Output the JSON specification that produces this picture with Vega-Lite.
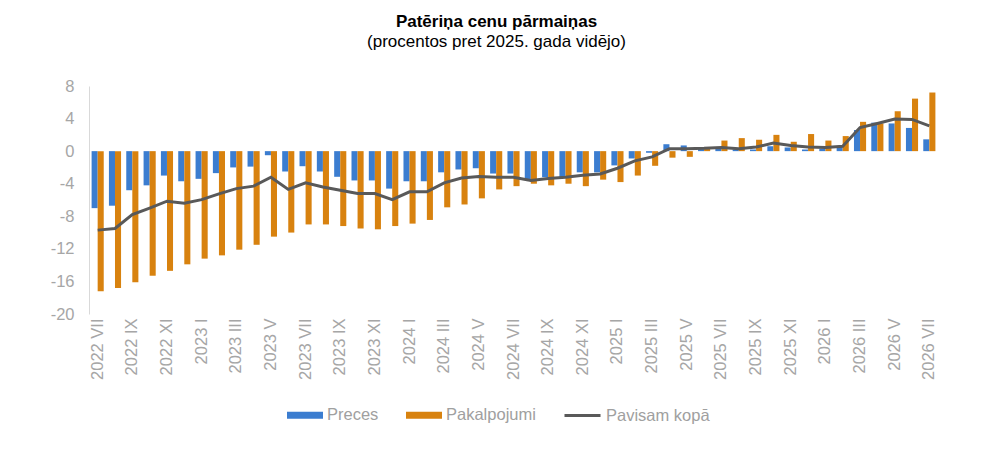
{
  "$schema": "https://vega.github.io/schema/vega-lite/v6.json",
  "width": 849,
  "height": 228,
  "autosize": {"type": "none"},
  "padding": {"left": 89, "top": 86, "right": 62, "bottom": 148},
  "title": {
    "text": "Patēriņa cenu pārmaiņas",
    "subtitle": "(procentos pret 2025. gada vidējo)",
    "font": "Liberation Sans",
    "fontSize": 17,
    "fontWeight": "bold",
    "color": "#000000",
    "subtitleFont": "Liberation Sans",
    "subtitleFontSize": 17,
    "subtitleColor": "#000000",
    "subtitlePadding": 3,
    "anchor": "middle",
    "dx": -17,
    "offset": 27
  },
  "datasets": {
    "bars": [
      {"m": "2022 VII", "series": "Preces", "v": -7.0}, {"m": "2022 VII", "series": "Pakalpojumi", "v": -17.2},
      {"m": "2022 VIII", "series": "Preces", "v": -6.7}, {"m": "2022 VIII", "series": "Pakalpojumi", "v": -16.8},
      {"m": "2022 IX", "series": "Preces", "v": -4.8}, {"m": "2022 IX", "series": "Pakalpojumi", "v": -16.1},
      {"m": "2022 X", "series": "Preces", "v": -4.2}, {"m": "2022 X", "series": "Pakalpojumi", "v": -15.3},
      {"m": "2022 XI", "series": "Preces", "v": -3.0}, {"m": "2022 XI", "series": "Pakalpojumi", "v": -14.7},
      {"m": "2022 XII", "series": "Preces", "v": -3.7}, {"m": "2022 XII", "series": "Pakalpojumi", "v": -13.9},
      {"m": "2023 I", "series": "Preces", "v": -3.4}, {"m": "2023 I", "series": "Pakalpojumi", "v": -13.2},
      {"m": "2023 II", "series": "Preces", "v": -2.7}, {"m": "2023 II", "series": "Pakalpojumi", "v": -12.8},
      {"m": "2023 III", "series": "Preces", "v": -2.0}, {"m": "2023 III", "series": "Pakalpojumi", "v": -12.1},
      {"m": "2023 IV", "series": "Preces", "v": -1.9}, {"m": "2023 IV", "series": "Pakalpojumi", "v": -11.5},
      {"m": "2023 V", "series": "Preces", "v": -0.5}, {"m": "2023 V", "series": "Pakalpojumi", "v": -10.5},
      {"m": "2023 VI", "series": "Preces", "v": -2.5}, {"m": "2023 VI", "series": "Pakalpojumi", "v": -10.0},
      {"m": "2023 VII", "series": "Preces", "v": -1.85}, {"m": "2023 VII", "series": "Pakalpojumi", "v": -9.0},
      {"m": "2023 VIII", "series": "Preces", "v": -2.5}, {"m": "2023 VIII", "series": "Pakalpojumi", "v": -9.0},
      {"m": "2023 IX", "series": "Preces", "v": -3.15}, {"m": "2023 IX", "series": "Pakalpojumi", "v": -9.2},
      {"m": "2023 X", "series": "Preces", "v": -3.6}, {"m": "2023 X", "series": "Pakalpojumi", "v": -9.5},
      {"m": "2023 XI", "series": "Preces", "v": -3.6}, {"m": "2023 XI", "series": "Pakalpojumi", "v": -9.6},
      {"m": "2023 XII", "series": "Preces", "v": -4.6}, {"m": "2023 XII", "series": "Pakalpojumi", "v": -9.2},
      {"m": "2024 I", "series": "Preces", "v": -3.7}, {"m": "2024 I", "series": "Pakalpojumi", "v": -8.9},
      {"m": "2024 II", "series": "Preces", "v": -3.7}, {"m": "2024 II", "series": "Pakalpojumi", "v": -8.45},
      {"m": "2024 III", "series": "Preces", "v": -2.6}, {"m": "2024 III", "series": "Pakalpojumi", "v": -6.9},
      {"m": "2024 IV", "series": "Preces", "v": -2.25}, {"m": "2024 IV", "series": "Pakalpojumi", "v": -6.55},
      {"m": "2024 V", "series": "Preces", "v": -2.1}, {"m": "2024 V", "series": "Pakalpojumi", "v": -5.8},
      {"m": "2024 VI", "series": "Preces", "v": -2.75}, {"m": "2024 VI", "series": "Pakalpojumi", "v": -4.7},
      {"m": "2024 VII", "series": "Preces", "v": -2.75}, {"m": "2024 VII", "series": "Pakalpojumi", "v": -4.3},
      {"m": "2024 VIII", "series": "Preces", "v": -3.5}, {"m": "2024 VIII", "series": "Pakalpojumi", "v": -4.0},
      {"m": "2024 IX", "series": "Preces", "v": -3.2}, {"m": "2024 IX", "series": "Pakalpojumi", "v": -4.2},
      {"m": "2024 X", "series": "Preces", "v": -3.2}, {"m": "2024 X", "series": "Pakalpojumi", "v": -4.0},
      {"m": "2024 XI", "series": "Preces", "v": -2.6}, {"m": "2024 XI", "series": "Pakalpojumi", "v": -4.3},
      {"m": "2024 XII", "series": "Preces", "v": -2.6}, {"m": "2024 XII", "series": "Pakalpojumi", "v": -3.5},
      {"m": "2025 I", "series": "Preces", "v": -1.75}, {"m": "2025 I", "series": "Pakalpojumi", "v": -3.8},
      {"m": "2025 II", "series": "Preces", "v": -0.9}, {"m": "2025 II", "series": "Pakalpojumi", "v": -3.0},
      {"m": "2025 III", "series": "Preces", "v": -0.2}, {"m": "2025 III", "series": "Pakalpojumi", "v": -1.8},
      {"m": "2025 IV", "series": "Preces", "v": 0.85}, {"m": "2025 IV", "series": "Pakalpojumi", "v": -0.8},
      {"m": "2025 V", "series": "Preces", "v": 0.7}, {"m": "2025 V", "series": "Pakalpojumi", "v": -0.7},
      {"m": "2025 VI", "series": "Preces", "v": 0.25}, {"m": "2025 VI", "series": "Pakalpojumi", "v": 0.35},
      {"m": "2025 VII", "series": "Preces", "v": 0.3}, {"m": "2025 VII", "series": "Pakalpojumi", "v": 1.3},
      {"m": "2025 VIII", "series": "Preces", "v": 0.2}, {"m": "2025 VIII", "series": "Pakalpojumi", "v": 1.6},
      {"m": "2025 IX", "series": "Preces", "v": 0.2}, {"m": "2025 IX", "series": "Pakalpojumi", "v": 1.4},
      {"m": "2025 X", "series": "Preces", "v": 0.6}, {"m": "2025 X", "series": "Pakalpojumi", "v": 2.0},
      {"m": "2025 XI", "series": "Preces", "v": 0.45}, {"m": "2025 XI", "series": "Pakalpojumi", "v": 1.15},
      {"m": "2025 XII", "series": "Preces", "v": 0.2}, {"m": "2025 XII", "series": "Pakalpojumi", "v": 2.1},
      {"m": "2026 I", "series": "Preces", "v": 0.3}, {"m": "2026 I", "series": "Pakalpojumi", "v": 1.3},
      {"m": "2026 II", "series": "Preces", "v": 0.6}, {"m": "2026 II", "series": "Pakalpojumi", "v": 1.85},
      {"m": "2026 III", "series": "Preces", "v": 2.6}, {"m": "2026 III", "series": "Pakalpojumi", "v": 3.6},
      {"m": "2026 IV", "series": "Preces", "v": 3.5}, {"m": "2026 IV", "series": "Pakalpojumi", "v": 3.4},
      {"m": "2026 V", "series": "Preces", "v": 3.4}, {"m": "2026 V", "series": "Pakalpojumi", "v": 4.9},
      {"m": "2026 VI", "series": "Preces", "v": 2.85}, {"m": "2026 VI", "series": "Pakalpojumi", "v": 6.45},
      {"m": "2026 VII", "series": "Preces", "v": 1.45}, {"m": "2026 VII", "series": "Pakalpojumi", "v": 7.2}
    ],
    "total": [
      {"m": "2022 VII", "series": "Pavisam kopā", "v": -9.7},
      {"m": "2022 VIII", "series": "Pavisam kopā", "v": -9.5},
      {"m": "2022 IX", "series": "Pavisam kopā", "v": -7.8},
      {"m": "2022 X", "series": "Pavisam kopā", "v": -7.0},
      {"m": "2022 XI", "series": "Pavisam kopā", "v": -6.15},
      {"m": "2022 XII", "series": "Pavisam kopā", "v": -6.4},
      {"m": "2023 I", "series": "Pavisam kopā", "v": -5.95},
      {"m": "2023 II", "series": "Pavisam kopā", "v": -5.25},
      {"m": "2023 III", "series": "Pavisam kopā", "v": -4.6},
      {"m": "2023 IV", "series": "Pavisam kopā", "v": -4.3},
      {"m": "2023 V", "series": "Pavisam kopā", "v": -3.2},
      {"m": "2023 VI", "series": "Pavisam kopā", "v": -4.7},
      {"m": "2023 VII", "series": "Pavisam kopā", "v": -3.9},
      {"m": "2023 VIII", "series": "Pavisam kopā", "v": -4.4},
      {"m": "2023 IX", "series": "Pavisam kopā", "v": -4.8},
      {"m": "2023 X", "series": "Pavisam kopā", "v": -5.2},
      {"m": "2023 XI", "series": "Pavisam kopā", "v": -5.2},
      {"m": "2023 XII", "series": "Pavisam kopā", "v": -5.95},
      {"m": "2024 I", "series": "Pavisam kopā", "v": -5.0},
      {"m": "2024 II", "series": "Pavisam kopā", "v": -5.0},
      {"m": "2024 III", "series": "Pavisam kopā", "v": -3.9},
      {"m": "2024 IV", "series": "Pavisam kopā", "v": -3.3},
      {"m": "2024 V", "series": "Pavisam kopā", "v": -3.1},
      {"m": "2024 VI", "series": "Pavisam kopā", "v": -3.2},
      {"m": "2024 VII", "series": "Pavisam kopā", "v": -3.2},
      {"m": "2024 VIII", "series": "Pavisam kopā", "v": -3.6},
      {"m": "2024 IX", "series": "Pavisam kopā", "v": -3.35},
      {"m": "2024 X", "series": "Pavisam kopā", "v": -3.2},
      {"m": "2024 XI", "series": "Pavisam kopā", "v": -2.95},
      {"m": "2024 XII", "series": "Pavisam kopā", "v": -2.8},
      {"m": "2025 I", "series": "Pavisam kopā", "v": -2.1},
      {"m": "2025 II", "series": "Pavisam kopā", "v": -1.2},
      {"m": "2025 III", "series": "Pavisam kopā", "v": -0.7},
      {"m": "2025 IV", "series": "Pavisam kopā", "v": 0.3},
      {"m": "2025 V", "series": "Pavisam kopā", "v": 0.3},
      {"m": "2025 VI", "series": "Pavisam kopā", "v": 0.35},
      {"m": "2025 VII", "series": "Pavisam kopā", "v": 0.45},
      {"m": "2025 VIII", "series": "Pavisam kopā", "v": 0.3},
      {"m": "2025 IX", "series": "Pavisam kopā", "v": 0.5},
      {"m": "2025 X", "series": "Pavisam kopā", "v": 1.0},
      {"m": "2025 XI", "series": "Pavisam kopā", "v": 0.7},
      {"m": "2025 XII", "series": "Pavisam kopā", "v": 0.5},
      {"m": "2026 I", "series": "Pavisam kopā", "v": 0.45},
      {"m": "2026 II", "series": "Pavisam kopā", "v": 0.6},
      {"m": "2026 III", "series": "Pavisam kopā", "v": 2.9},
      {"m": "2026 IV", "series": "Pavisam kopā", "v": 3.4},
      {"m": "2026 V", "series": "Pavisam kopā", "v": 3.95},
      {"m": "2026 VI", "series": "Pavisam kopā", "v": 3.9},
      {"m": "2026 VII", "series": "Pavisam kopā", "v": 3.1}
    ]
  },
  "encoding": {
    "x": {
      "field": "m",
      "type": "nominal",
      "sort": null,
      "scale": {"paddingInner": 0.3, "paddingOuter": 0.15},
      "axis": {
        "title": null,
        "values": ["2022 VII", "2022 IX", "2022 XI", "2023 I", "2023 III", "2023 V", "2023 VII", "2023 IX", "2023 XI", "2024 I", "2024 III", "2024 V", "2024 VII", "2024 IX", "2024 XI", "2025 I", "2025 III", "2025 V", "2025 VII", "2025 IX", "2025 XI", "2026 I", "2026 III", "2026 V", "2026 VII"],
        "labelAngle": -90,
        "labelFont": "Liberation Sans",
        "labelFontSize": 16.5,
        "labelColor": "#a6a6a6",
        "labelPadding": 4,
        "ticks": false,
        "domain": false,
        "grid": false
      }
    },
    "y": {
      "field": "v",
      "type": "quantitative",
      "scale": {"domain": [-20, 8], "nice": false, "zero": false},
      "axis": {
        "title": null,
        "values": [8, 4, 0, -4, -8, -12, -16, -20],
        "labelExpr": "replace(datum.label, '\u2212', '-')",
        "labelFont": "Liberation Sans",
        "labelFontSize": 16.5,
        "labelColor": "#a6a6a6",
        "labelPadding": 15,
        "ticks": false,
        "grid": false,
        "domainColor": "#d9d9d9"
      }
    }
  },
  "layer": [
    {
      "data": {"name": "bars"},
      "mark": {"type": "bar"},
      "encoding": {
        "xOffset": {"field": "series", "type": "nominal", "sort": ["Preces", "Pakalpojumi"], "scale": {"paddingInner": 0, "paddingOuter": 0}},
        "color": {
          "field": "series",
          "type": "nominal",
          "scale": {"domain": ["Preces", "Pakalpojumi"], "range": ["#3b7dd0", "#d8820f"]},
          "legend": {
            "title": null,
            "orient": "none",
            "legendX": 198,
            "legendY": 311,
            "direction": "horizontal",
            "symbolType": "M-1,-0.2L1,-0.2L1,0.2L-1,0.2Z",
            "symbolSize": 1296,
            "symbolStrokeWidth": 0,
            "labelFont": "Liberation Sans",
            "labelFontSize": 16.5,
            "labelColor": "#a0a0a0",
            "labelOffset": 4,
            "columnPadding": 27
          }
        }
      }
    },
    {
      "data": {"values": [{"z": 0}]},
      "mark": {"type": "rule", "color": "#d9d9d9", "strokeWidth": 1.5},
      "encoding": {"y": {"datum": 0}, "x": null}
    },
    {
      "data": {"name": "total"},
      "mark": {"type": "line", "strokeWidth": 3, "interpolate": "linear"},
      "encoding": {
        "stroke": {
          "field": "series",
          "type": "nominal",
          "scale": {"domain": ["Pavisam kopā"], "range": ["#595959"]},
          "legend": {
            "title": null,
            "orient": "none",
            "legendX": 474,
            "legendY": 310,
            "direction": "horizontal",
            "symbolType": "stroke",
            "symbolSize": 1296,
            "symbolStrokeWidth": 3,
            "labelFont": "Liberation Sans",
            "labelFontSize": 16.5,
            "labelColor": "#a0a0a0",
            "labelOffset": 4
          }
        }
      }
    }
  ],
  "config": {
    "view": {"stroke": null},
    "background": "#ffffff"
  }
}
